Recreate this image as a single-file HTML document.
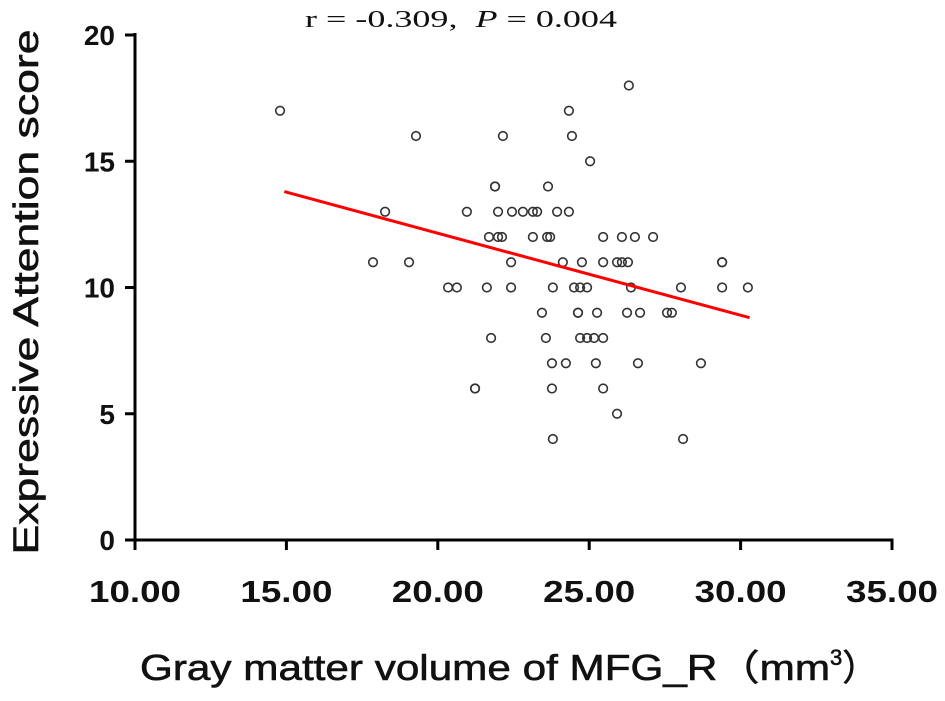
<!DOCTYPE html>
<html><head><meta charset="utf-8"><style>
html,body{margin:0;padding:0;background:#fff;}
svg text{font-family:"Liberation Sans",sans-serif;}
svg text.serif{font-family:"Liberation Serif",serif;}
</style></head><body>
<svg id="chart" width="945" height="696" viewBox="0 0 945 696" xmlns="http://www.w3.org/2000/svg">
<g id="g"></g>
</svg>
<script>
const xTicks=[10,15,20,25,30,35];
const xTickLabels=["10.00","15.00","20.00","25.00","30.00","35.00"];
const yTicks=[0,5,10,15,20];
const volumes=[14.79,17.86,19.05,18.26,19.28,20.34,20.63,20.96,21.23,21.62,21.76,21.89,21.89,
21.69,21.99,22.12,21.99,22.45,22.81,23.14,23.28,23.94,24.33,22.15,22.42,22.42,
23.14,23.61,23.71,25.46,26.08,26.51,27.11,
24.13,24.76,25.46,25.92,26.08,26.28,29.39,29.39,
23.80,24.50,24.70,24.93,26.38,28.03,29.39,30.24,
23.44,24.63,24.63,25.26,26.25,26.68,27.57,27.73,
23.57,24.70,24.93,25.16,25.46,
23.77,24.23,25.22,26.61,28.69,
21.23,23.77,25.46,25.92,23.80,28.10,
23.64,25.03,24.43,24.33,26.31];
const scores=[17,11,11,13,16,10,10,13,6,10,8,14,14,
12,12,12,13,13,13,13,13,13,13,16,11,10,
12,12,12,12,12,12,12,
11,11,11,11,11,11,11,11,
10,10,10,10,10,10,10,10,
9,9,9,9,9,9,9,9,
8,8,8,8,8,
7,7,7,7,7,
6,6,6,5,4,4,
14,15,16,17,18];
const fitIntercept=18.65;
const fitSlope=-0.325;
const fitRange=[14.93,30.3];

const X0=135,X1=892,Y0=540,Y1=35;
const xs=v=>X0+(v-10)/25*(X1-X0);
const ys=v=>Y0-(v-0)/20*(Y0-Y1);
const NS="http://www.w3.org/2000/svg";
const g=document.getElementById('g');
function mk(t,a,txt){const e=document.createElementNS(NS,t);for(const k in a)e.setAttribute(k,a[k]);if(txt!==undefined)e.textContent=txt;g.appendChild(e);return e;}

let e=mk('line',{x1:X0,y1:Y1-2,x2:X0,y2:Y0+1.5,stroke:'#000','stroke-width':3});


e=mk('line',{x1:X0-1.5,y1:Y0,x2:X1+1.5,y2:Y0,stroke:'#000','stroke-width':3});



xTicks.forEach((v,i)=>{
  let t=mk('line',{x1:xs(v),y1:Y0,x2:xs(v),y2:Y0+10,stroke:'#000','stroke-width':3});
  
  
  let l=mk('text',{x:xs(v)-46,y:602,'font-size':31,'font-weight':'bold',fill:'#111',textLength:92,lengthAdjust:'spacingAndGlyphs'},xTickLabels[i]);
  
  
});
yTicks.forEach(v=>{
  let t=mk('line',{x1:X0-10,y1:ys(v),x2:X0,y2:ys(v),stroke:'#000','stroke-width':3});
  
  
  let l=mk('text',{x:X0-20,y:ys(v)+10,'text-anchor':'end','font-size':28,'font-weight':'bold',fill:'#111'},String(v));
  
  
});

volumes.forEach((v,i)=>{
  let c=mk('circle',{cx:xs(v),cy:ys(scores[i]),r:4.3,fill:'none',stroke:'#333','stroke-width':1.6});
  
  
});

e=mk('line',{x1:xs(fitRange[0]),y1:ys(fitIntercept+fitSlope*fitRange[0]),x2:xs(fitRange[1]),y2:ys(fitIntercept+fitSlope*fitRange[1]),stroke:'#f00','stroke-width':3});



e=mk('text',{x:305,y:27,'font-size':24,fill:'#111','class':'serif',textLength:312,lengthAdjust:'spacingAndGlyphs'});
e.innerHTML='r = -0.309,&#160;&#160;<tspan font-style="italic">P</tspan> = 0.004';



e=mk('text',{x:0,y:0,'text-anchor':'middle','font-size':35,fill:'#111',stroke:'#111','stroke-width':0.6,textLength:525,lengthAdjust:'spacingAndGlyphs',transform:'translate(38,292) rotate(-90)'},'Expressive Attention score');



e=mk('text',{x:140,y:680,'font-size':36,fill:'#111',stroke:'#111','stroke-width':0.6});
e.innerHTML='<tspan textLength="690" lengthAdjust="spacingAndGlyphs">Gray matter volume of MFG_R（mm</tspan><tspan font-size="22" dy="-15">3</tspan><tspan dy="15">）</tspan>';


</script>
</body></html>
